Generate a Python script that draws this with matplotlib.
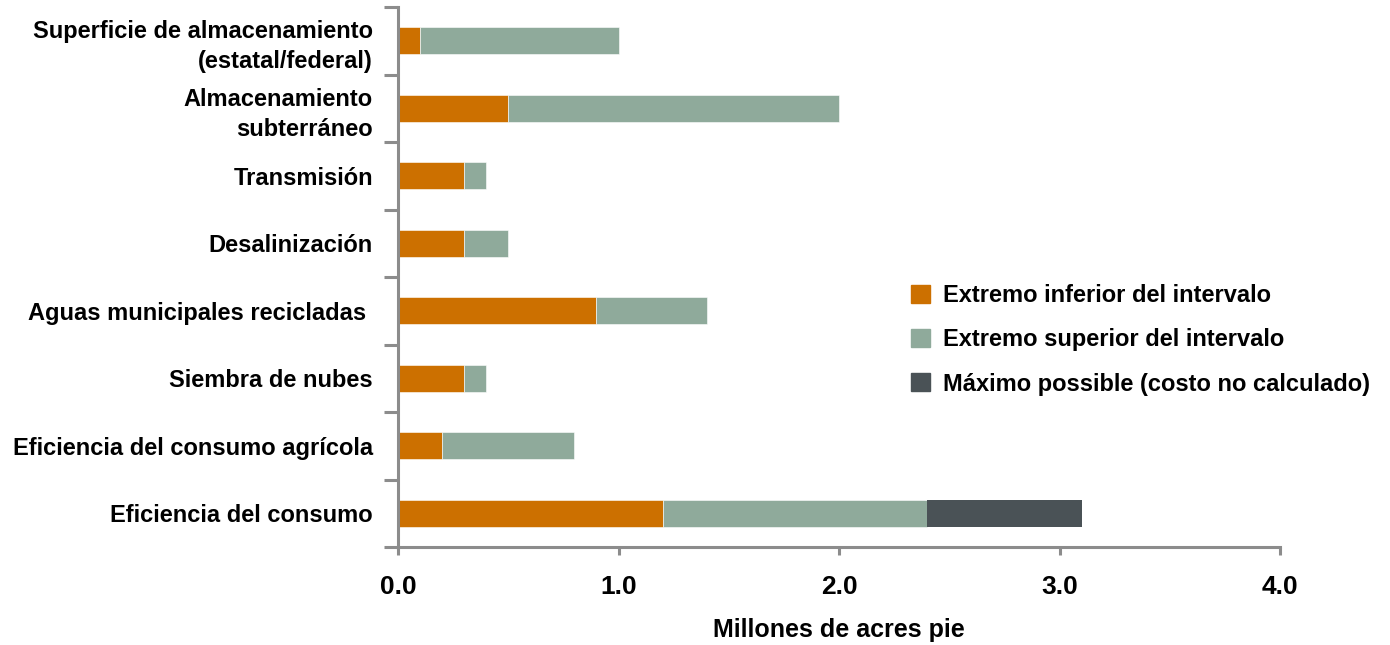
import matplotlib
matplotlib.use("Agg")
import matplotlib.pyplot as plt
from matplotlib.patches import Patch

plt.rcParams['font.family'] = ['Liberation Sans', 'DejaVu Sans']
plt.rcParams['font.weight'] = 'bold'

categories = [
    "Superficie de almacenamiento\n(estatal/federal)",
    "Almacenamiento\nsubterráneo",
    "Transmisión",
    "Desalinización",
    "Aguas municipales recicladas ",
    "Siembra de nubes",
    "Eficiencia del consumo agrícola",
    "Eficiencia del consumo",
]
low_end = [0.1, 0.5, 0.3, 0.3, 0.9, 0.3, 0.2, 1.2]
high_end = [1.0, 2.0, 0.4, 0.5, 1.4, 0.4, 0.8, 2.4]
max_possible = [0, 0, 0, 0, 0, 0, 0, 3.1]
series_names = ["Extremo inferior del intervalo",
                "Extremo superior del intervalo",
                "Máximo possible (costo no calculado)"]
x_ticks = [0.0, 1.0, 2.0, 3.0, 4.0]
x_label = "Millones de acres pie"

c_low = "#CC7000"
c_high = "#8FAA9B"
c_max = "#4A5256"
axis_col = "#8C8C8C"

fig = plt.figure(figsize=(13.9, 6.45), dpi=100)
ax = fig.add_axes([398/1390, 1-547/645, (1280-398)/1390, (547-7)/645])

n = len(categories)
ys = [n - 1 - i for i in range(n)]
h = 0.4
green_w = [hi - lo for lo, hi in zip(low_end, high_end)]
dark_w = [max(m - hi, 0) for hi, m in zip(high_end, max_possible)]

ax.barh(ys, low_end, height=h, color=c_low, edgecolor='white', linewidth=0.4)
ax.barh(ys, green_w, left=low_end, height=h, color=c_high, edgecolor='white', linewidth=0.4)
ax.barh(ys, dark_w, left=high_end, height=h, color=c_max, edgecolor='white', linewidth=0.0)

ax.set_xlim(0, 4.0)
ax.set_ylim(-0.5, n - 0.5)

for s in ['top', 'right']:
    ax.spines[s].set_visible(False)
for s in ['left', 'bottom']:
    ax.spines[s].set_color(axis_col)
    ax.spines[s].set_linewidth(2.2)

ax.set_xticks(x_ticks)
ax.set_xticklabels([f"{v:.1f}" for v in x_ticks], fontsize=19, fontweight='bold')
ax.tick_params(axis='x', direction='out', length=6, width=2.2, color=axis_col, pad=14)

# category boundary ticks on y axis
ax.set_yticks([y - 0.5 for y in range(n + 1)], minor=False)
ax.set_yticklabels([])
ax.tick_params(axis='y', which='major', direction='out', length=10, width=2.2, color=axis_col)
ax.set_yticks(ys, minor=True)
ax.set_yticklabels(categories, minor=True, fontsize=17, fontweight='bold',
                   multialignment='right', linespacing=1.4)
ax.tick_params(axis='y', which='minor', length=0, pad=18)

ax.set_xlabel(x_label, fontsize=18, fontweight='bold', labelpad=14)

handles = [Patch(color=c_low), Patch(color=c_high), Patch(color=c_max)]
leg = ax.legend(handles, series_names, loc='upper left',
                bbox_to_anchor=((911 - 398) / 882, (547 - 284) / 540),
                frameon=False, fontsize=17, handlelength=0.8, handleheight=0.8,
                labelspacing=0.9, handletextpad=0.55, borderpad=0, borderaxespad=0)
for t in leg.get_texts():
    t.set_fontweight('bold')

fig.savefig("out.png", dpi=100)
